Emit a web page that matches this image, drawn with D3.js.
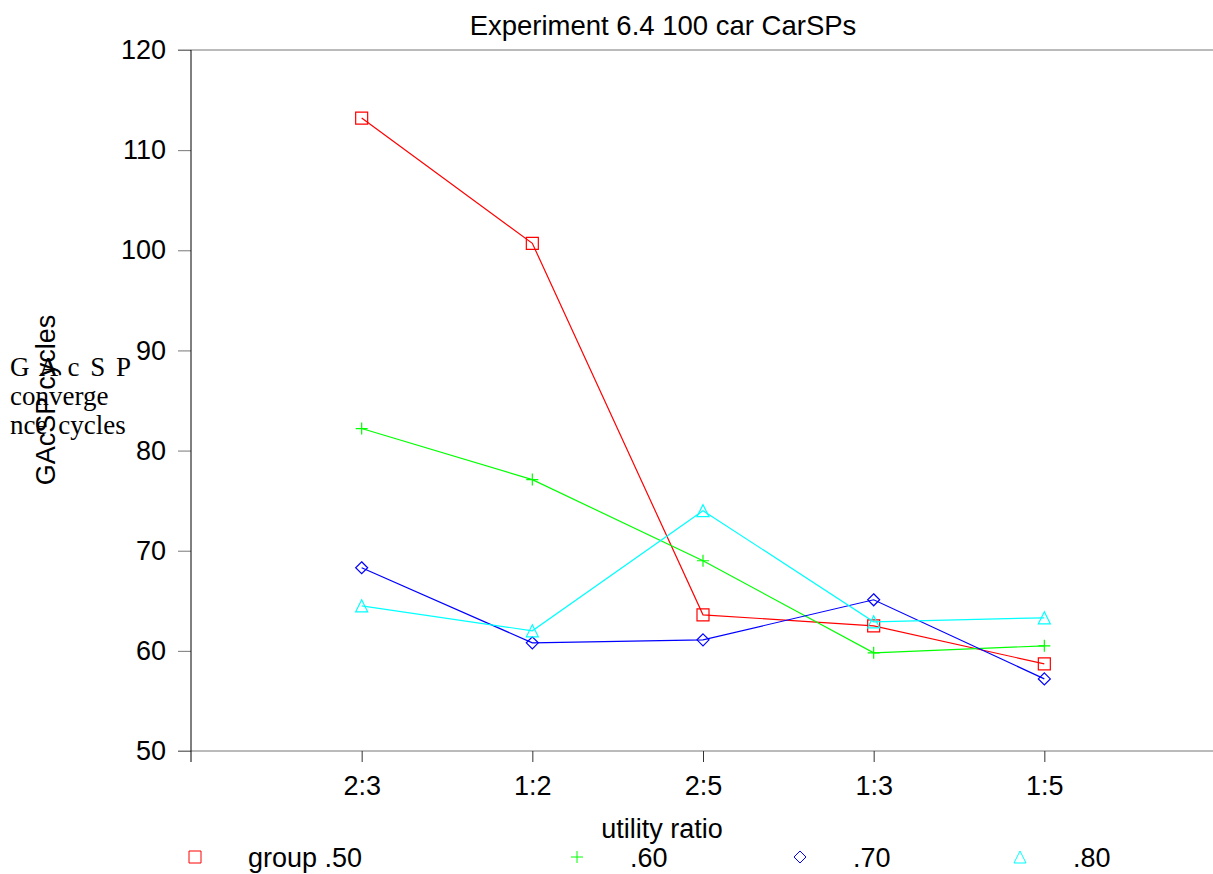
<!DOCTYPE html>
<html>
<head>
<meta charset="utf-8">
<script src="https://cdn.jsdelivr.net/npm/d3@7"></script>
<style>
  body { margin: 0; background: #fff; }
  text { font-family: "Liberation Sans", Arial, sans-serif; }
</style>
</head>
<body>
<svg width="1213" height="874"></svg>
<script>
const categories = ["2:3", "1:2", "2:5", "1:3", "1:5"];
const yTicks = [50, 60, 70, 80, 90, 100, 110, 120];
const seriesNames = ["group .50", ".60", ".70", ".80"];
const seriesColors = ["#ff0000", "#00ff00", "#0000ff", "#00ffff"];
const seriesMarkers = ["square", "plus", "diamond", "triangle"];
const group50 = [113.2, 100.7, 63.6, 62.5, 58.7];
const group60 = [82.2, 77.1, 69.0, 59.8, 60.5];
const group70 = [68.3, 60.8, 61.1, 65.1, 57.2];
const group80 = [64.5, 62.0, 74.0, 62.9, 63.3];
const seriesValues = [group50, group60, group70, group80];

const svg = d3.select("svg");
const width = +svg.attr("width");

const x = d3.scalePoint()
  .domain(categories)
  .range([191, 1215])
  .padding(1);
const y = d3.scaleLinear()
  .domain([50, 120])
  .range([751, 50]);

// marker shapes, centred on 0,0
function marker(kind) {
  const s = 6;
  if (kind === "square") return `M${-s},${-s}H${s}V${s}H${-s}Z`;
  if (kind === "plus") return `M${-s},0H${s}M0,${-s}V${s}`;
  if (kind === "diamond") return `M0,${-s}L${s},0L0,${s}L${-s},0Z`;
  return `M0,${-s}L${s},${s}H${-s}Z`;
}

// frame lines
svg.append("line")
  .attr("x1", 178).attr("x2", width)
  .attr("y1", y(120)).attr("y2", y(120))
  .attr("stroke", "#777");
svg.append("line")
  .attr("x1", 178).attr("x2", width)
  .attr("y1", y(50)).attr("y2", y(50))
  .attr("stroke", "#777");

// y axis
const yAxis = svg.append("g")
  .attr("transform", "translate(191,0)")
  .call(d3.axisLeft(y).tickValues(yTicks).tickSize(13).tickPadding(12));
yAxis.select(".domain").remove();
yAxis.selectAll(".tick line").attr("stroke", "#777");
yAxis.selectAll("text")
  .attr("font-size", 27)
  .attr("fill", "#000")
  .attr("font-family", "Liberation Sans, Arial, sans-serif");
svg.append("line")
  .attr("x1", 191).attr("x2", 191)
  .attr("y1", y(120)).attr("y2", y(50) + 11)
  .attr("stroke", "#000");

// x axis
const xAxis = svg.append("g")
  .attr("transform", `translate(0,${y(50)})`)
  .call(d3.axisBottom(x).tickSize(11).tickPadding(14));
xAxis.select(".domain").remove();
xAxis.selectAll(".tick line").attr("stroke", "#333");
xAxis.selectAll("text")
  .attr("font-size", 27)
  .attr("fill", "#000")
  .attr("font-family", "Liberation Sans, Arial, sans-serif");

// title and labels
svg.append("text")
  .attr("x", 663).attr("y", 35)
  .attr("text-anchor", "middle")
  .attr("font-size", 27.5)
  .text("Experiment 6.4 100 car CarSPs");
svg.append("text")
  .attr("x", 662).attr("y", 838)
  .attr("text-anchor", "middle")
  .attr("font-size", 27)
  .text("utility ratio");
svg.append("text")
  .attr("transform", "translate(55,400) rotate(-90)")
  .attr("text-anchor", "middle")
  .attr("font-size", 27)
  .text("GAcSP cycles");
const serif = svg.append("text")
  .attr("font-size", 27)
  .attr("word-spacing", 4)
  .style("font-family", "'Liberation Serif', serif");
["G A c S P", "converge", "nce cycles"].forEach((t, i) => {
  serif.append("tspan").attr("x", 10).attr("y", 376 + i * 29).text(t);
});

// series
const line = d3.line()
  .x((d, i) => x(categories[i]))
  .y(d => y(d));

seriesValues.forEach((vals, k) => {
  const g = svg.append("g");
  g.append("path")
    .datum(vals)
    .attr("d", line)
    .attr("fill", "none")
    .attr("stroke", seriesColors[k])
    .attr("stroke-width", 1.2);
  g.selectAll("path.m")
    .data(vals)
    .enter()
    .append("path")
    .attr("class", "m")
    .attr("transform", (d, i) => `translate(${x(categories[i])},${y(d)})`)
    .attr("d", marker(seriesMarkers[k]))
    .attr("fill", "none")
    .attr("stroke", seriesColors[k])
    .attr("stroke-width", 1.2);
});

// legend
const legendX = [195, 577, 800, 1020];
const legend = svg.append("g")
  .selectAll("g")
  .data(seriesNames)
  .enter()
  .append("g")
  .attr("transform", (d, i) => `translate(${legendX[i]},857)`);
legend.append("path")
  .attr("d", (d, i) => marker(seriesMarkers[i]))
  .attr("fill", "none")
  .attr("stroke", (d, i) => seriesColors[i]);
legend.append("text")
  .attr("x", 53).attr("y", 10)
  .attr("font-size", 27)
  .text(d => d);
</script>
</body>
</html>
